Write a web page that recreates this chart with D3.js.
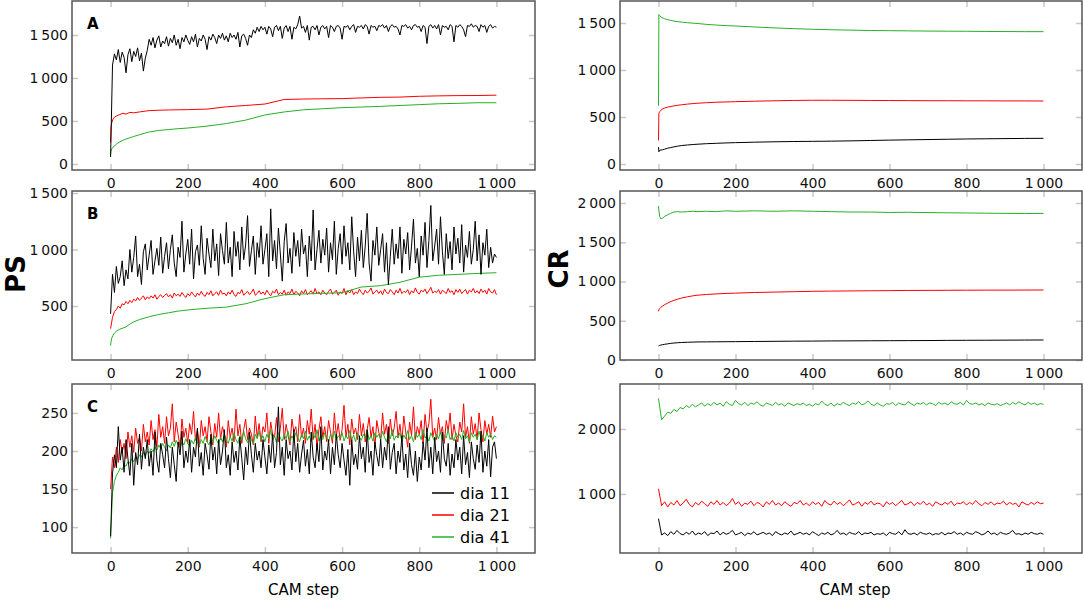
<!DOCTYPE html>
<html>
<head>
<meta charset="utf-8">
<script src="https://cdn.jsdelivr.net/npm/d3@7"></script>
<style>
  body { margin: 0; background: #fff; }
  svg { font-family: "DejaVu Sans", Verdana, sans-serif; }
  .frame { fill: none; stroke: #555; stroke-width: 1.5; }
  .axis .domain { display: none; }
  .axis line { stroke: #c8c8c8; stroke-width: 1.5; }
  .axis text { font-family: "DejaVu Sans", Verdana, sans-serif; font-size: 14px; fill: #111; }
  .series { fill: none; stroke-width: 1; stroke-linejoin: round; }
  .panel-letter { font-size: 15px; font-weight: bold; }
  .axis-title { font-size: 26px; font-weight: bold; }
  .x-title { font-size: 15px; }
  .legend text { font-size: 16px; }
</style>
</head>
<body>
<div id="chart"></div>
<script>

// ---- data ----
const seriesLabels = ['dia 11', 'dia 21', 'dia 41'];
const xTicks = [0, 200, 400, 600, 800, 1000];

// CAM-step grids: every 5 steps for the noisiest series, every 8 for the CR bottom panel,
// a sparse grid for the smooth ones
const fineSteps = d3.range(0, 1001, 5);
const midSteps = d3.range(0, 1001, 8);
const coarseSteps = [0, 1, 3, 6, 10, 16, 24, 32, 40, 50, 60, 75, 90, 100, 125, 150, 175, 200,
  250, 300, 350, 400, 450, 500, 550, 600, 650, 700, 750, 800, 850, 900, 950, 1000];

// PS, panel A
const psA_ticks = [0, 500, 1000, 1500];
const psA_dia11 = [
  80, 1150, 1280, 1210, 1330, 1180, 1300, 1240, 1060, 1270,
  1340, 1190, 1310, 1250, 1350, 1200, 1290, 1080, 1230, 1320,
  1450, 1380, 1470, 1350, 1440, 1490, 1360, 1430, 1400, 1480,
  1370, 1460, 1410, 1500, 1380, 1450, 1340, 1470, 1420, 1500,
  1440, 1390, 1480, 1420, 1510, 1360, 1460, 1430, 1500, 1450,
  1330, 1480, 1440, 1510, 1470, 1400, 1500, 1460, 1520, 1440,
  1490, 1420, 1520, 1470, 1500, 1450, 1530, 1360, 1490, 1510,
  1460, 1380, 1500, 1470, 1560, 1520, 1590, 1540, 1600, 1560,
  1590, 1510, 1600, 1570, 1480, 1590, 1610, 1550, 1600, 1460,
  1580, 1610, 1540, 1600, 1450, 1590, 1570, 1620, 1720, 1580,
  1600, 1530, 1610, 1440, 1590, 1600, 1560, 1610, 1500, 1590,
  1610, 1570, 1600, 1470, 1610, 1590, 1540, 1600, 1610, 1580,
  1450, 1600, 1590, 1610, 1560, 1600, 1620, 1530, 1600, 1590,
  1610, 1570, 1620, 1600, 1510, 1610, 1590, 1600, 1550, 1610,
  1600, 1620, 1580, 1610, 1540, 1600, 1620, 1590, 1600, 1570,
  1500, 1610, 1600, 1620, 1580, 1600, 1560, 1610, 1620, 1590,
  1600, 1540, 1610, 1590, 1400, 1600, 1620, 1580, 1610, 1570,
  1620, 1500, 1610, 1590, 1600, 1560, 1620, 1600, 1420, 1610,
  1590, 1620, 1600, 1560, 1480, 1610, 1600, 1630, 1590, 1610,
  1600, 1540, 1620, 1590, 1610, 1530, 1600, 1620, 1580, 1600,
  1590];
const psA_dia21 = [250, 420, 480, 520, 545, 560, 575, 590, 580, 600, 595, 605, 615, 620, 625, 628, 630, 632,
  638, 665, 680, 697, 750, 755, 758, 760, 768, 775, 778, 787, 792, 795, 796, 800];
const psA_dia41 = [110, 150, 175, 195, 210, 235, 258, 275, 290, 305, 320, 340, 360, 372, 390, 400, 410, 418,
  440, 470, 510, 570, 605, 630, 642, 655, 662, 670, 680, 690, 700, 705, 712, 712];

// PS, panel B
const psB_ticks = [500, 1000, 1500];
const psB_dia11 = [
  430, 780, 620, 850, 700, 760, 900, 680, 820, 740,
  1000, 800, 930, 1120, 760, 870, 690, 980, 1050, 820,
  950, 1080, 780, 900, 1010, 860, 1110, 790, 940, 1060,
  830, 1000, 1130, 880, 760, 1020, 930, 1250, 800, 960,
  1090, 870, 1180, 740, 980, 1040, 860, 1210, 920, 780,
  1100, 960, 840, 1180, 900, 1050, 770, 1140, 990, 870,
  1240, 880, 1020, 760, 1160, 940, 1070, 820, 1200, 910,
  1040, 1300, 850, 990, 1120, 780, 1060, 930, 1210, 870,
  1000, 1140, 760, 1360, 900, 1080, 830, 1190, 960, 720,
  1070, 1230, 880, 1010, 790, 1150, 940, 1080, 850, 1180,
  960, 1040, 760, 1120, 900, 1350, 820, 1000, 1170, 880,
  1090, 950, 1190, 800, 1060, 910, 1250, 780, 1010, 1140,
  870, 1210, 940, 1060, 820, 1290, 980, 760, 1110, 900,
  1170, 840, 1030, 1320, 880, 720, 1080, 950, 1200, 860,
  1000, 1140, 800, 1060, 690, 940, 1180, 870, 1050, 920,
  1200, 790, 1090, 960, 1150, 820, 1030, 1270, 880, 1010,
  760, 1120, 950, 1240, 840, 1080, 1390, 900, 1030, 1180,
  870, 1290, 980, 780, 1140, 920, 1070, 820, 1200, 960,
  1100, 880, 1220, 800, 1040, 930, 1160, 870, 1000, 1250,
  900, 1130, 780, 1060, 950, 1180, 840, 1020, 880, 960,
  930];
const psB_dia21 = [
  300, 400, 450, 470, 500, 480, 520, 510, 540, 520,
  550, 530, 560, 545, 575, 550, 570, 590, 555, 580,
  565, 590, 570, 600, 560, 585, 600, 575, 595, 610,
  580, 600, 570, 615, 590, 605, 585, 620, 595, 575,
  610, 590, 625, 600, 580, 615, 595, 630, 600, 585,
  620, 600, 635, 590, 610, 625, 595, 640, 605, 615,
  590, 625, 605, 640, 600, 585, 620, 610, 645, 595,
  615, 630, 600, 620, 650, 595, 610, 635, 605, 625,
  600, 640, 610, 590, 630, 615, 650, 600, 620, 605,
  640, 595, 625, 610, 650, 600, 630, 615, 590, 635,
  610, 645, 600, 620, 635, 605, 655, 610, 625, 600,
  640, 615, 600, 630, 650, 605, 620, 640, 595, 625,
  610, 655, 600, 635, 615, 645, 600, 625, 610, 650,
  620, 600, 640, 615, 630, 660, 605, 625, 640, 610,
  635, 600, 650, 620, 610, 645, 625, 600, 640, 615,
  655, 610, 630, 620, 645, 600, 635, 615, 660, 620,
  605, 640, 625, 650, 610, 635, 665, 615, 630, 620,
  645, 605, 640, 625, 610, 655, 620, 635, 600, 645,
  620, 650, 610, 630, 645, 605, 640, 625, 655, 615,
  635, 610, 650, 620, 640, 605, 655, 625, 615, 645,
  600];
const psB_dia41 = [150, 180, 215, 240, 260, 280, 295, 305, 315, 340, 360, 380, 395, 405, 425, 440, 455, 465,
  480, 490, 520, 565, 600, 607, 612, 618, 668, 680, 710, 755, 772, 780, 788, 795];

// PS, panel C
const psC_ticks = [100, 150, 200, 250];
const psC_dia11 = [
  88, 170, 195, 178, 232, 188, 205, 172, 215, 190,
  168, 210, 155, 198, 182, 222, 176, 205, 190, 215,
  180, 200, 168, 225, 188, 172, 210, 195, 178, 218,
  190, 165, 205, 182, 160, 212, 195, 226, 178, 200,
  185, 215, 172, 205, 192, 230, 180, 198, 168, 210,
  195, 176, 222, 188, 205, 170, 215, 182, 200, 228,
  178, 195, 168, 212, 185, 200, 175, 218, 190, 162,
  205, 182, 225, 195, 172, 210, 188, 200, 178, 215,
  192, 170, 208, 185, 222, 178, 198, 258, 182, 205,
  168, 215, 190, 200, 175, 228, 186, 210, 172, 196,
  214, 180, 202, 170, 225, 192, 178, 210, 186, 232,
  175, 200, 188, 215, 170, 205, 182, 222, 195, 178,
  210, 188, 168, 202, 155, 215, 182, 196, 176, 220,
  190, 205, 172, 228, 185, 200, 168, 212, 194, 180,
  215, 178, 205, 188, 232, 176, 198, 210, 170, 200,
  185, 220, 175, 196, 165, 210, 182, 168, 200, 160,
  192, 175, 212, 188, 230, 178, 205, 170, 218, 186,
  200, 172, 225, 190, 180, 210, 168, 196, 178, 215,
  188, 205, 170, 220, 182, 198, 165, 212, 190, 176,
  208, 185, 226, 172, 200, 180, 215, 166, 205, 212,
  190];
const psC_dia21 = [
  150, 192, 178, 205, 185, 215, 198, 210, 190, 225,
  205, 220, 198, 230, 210, 218, 200, 235, 212, 225,
  208, 240, 215, 228, 205, 248, 218, 232, 210, 245,
  220, 230, 262, 212, 238, 222, 205, 242, 218, 230,
  210, 236, 222, 252, 214, 228, 205, 240, 220, 232,
  212, 245, 225, 208, 236, 218, 250, 215, 232, 222,
  205, 240, 218, 230, 212, 255, 220, 235, 210, 228,
  242, 215, 230, 222, 208, 246, 218, 236, 212, 232,
  225, 250, 210, 238, 222, 218, 244, 212, 230, 256,
  215, 235, 220, 208, 242, 225, 232, 212, 248, 218,
  230, 210, 240, 222, 255, 215, 235, 205, 228, 245,
  218, 232, 212, 240, 225, 210, 250, 220, 236, 214,
  228, 260, 218, 235, 208, 242, 222, 230, 215, 248,
  220, 236, 212, 228, 244, 218, 232, 205, 240, 225,
  215, 250, 222, 235, 210, 242, 220, 230, 252, 218,
  235, 212, 246, 225, 205, 238, 220, 258, 215, 232,
  222, 240, 210, 248, 225, 236, 268, 218, 230, 215,
  244, 222, 232, 210, 240, 226, 250, 215, 235, 220,
  212, 238, 225, 262, 218, 232, 210, 245, 222, 236,
  215, 250, 228, 212, 240, 222, 235, 218, 246, 225,
  232];
const psC_dia41 = [
  85, 145, 160, 168, 172, 178, 175, 182, 180, 186,
  184, 190, 186, 192, 189, 195, 192, 198, 194, 200,
  197, 203, 199, 205, 201, 208, 203, 210, 205, 200,
  208, 204, 212, 206, 214, 208, 204, 212, 208, 216,
  210, 206, 214, 209, 218, 211, 207, 215, 210, 219,
  212, 208, 217, 211, 220, 214, 209, 218, 212, 222,
  214, 210, 219, 213, 224, 215, 210, 220, 214, 226,
  216, 211, 221, 215, 209, 222, 216, 226, 214, 220,
  212, 222, 216, 228, 214, 220, 211, 224, 217, 213,
  222, 216, 226, 212, 220, 215, 224, 218, 212, 222,
  216, 226, 214, 220, 212, 223, 217, 228, 213, 220,
  215, 224, 218, 212, 222, 216, 226, 214, 220, 217,
  224, 213, 220, 216, 227, 215, 221, 212, 224, 218,
  214, 222, 217, 228, 215, 220, 213, 224, 218, 222,
  215, 226, 218, 212, 222, 216, 228, 214, 220, 217,
  224, 213, 221, 216, 227, 215, 220, 212, 225, 218,
  222, 215, 228, 217, 220, 213, 224, 218, 212, 222,
  216, 226, 214, 221, 217, 228, 215, 220, 213, 224,
  218, 222, 215, 227, 216, 220, 212, 224, 218, 222,
  215, 226, 217, 221, 213, 224, 218, 222, 215, 220,
  218];

// CR, top
const crA_ticks = [0, 500, 1000, 1500];
const crA_dia11 = [180, 130, 145, 148, 150, 158, 168, 175, 182, 190, 196, 202, 207, 210, 216, 220, 224, 227,
  232, 236, 239, 241, 243, 246, 250, 254, 257, 260, 263, 266, 268, 270, 272, 273];
const crA_dia21 = [250, 540, 555, 570, 585, 595, 605, 612, 618, 625, 630, 637, 643, 646, 652, 657, 660, 663,
  668, 672, 676, 678, 678, 677, 676, 675, 674, 673, 673, 672, 672, 671, 671, 670];
const crA_dia41 = [620, 1590, 1580, 1565, 1555, 1545, 1535, 1528, 1520, 1514, 1510, 1503, 1498, 1495, 1485, 1478, 1472, 1468,
  1458, 1448, 1440, 1433, 1428, 1424, 1420, 1418, 1416, 1414, 1413, 1412, 1410, 1409, 1408, 1408];

// CR, middle
const crB_ticks = [0, 500, 1000, 1500, 2000];
const crB_dia11 = [178, 182, 186, 190, 195, 200, 206, 212, 216, 220, 223, 226, 228, 230, 231, 232, 233, 234,
  236, 238, 240, 241, 243, 244, 245, 246, 247, 248, 250, 251, 252, 253, 254, 255];
const crB_dia21 = [620, 640, 655, 670, 685, 705, 725, 745, 760, 775, 790, 805, 818, 825, 835, 842, 848, 852,
  860, 865, 870, 875, 878, 880, 882, 884, 886, 887, 888, 889, 890, 890, 891, 892];
const crB_dia41 = [1960, 1900, 1830, 1800, 1805, 1830, 1850, 1870, 1885, 1890, 1885, 1890, 1895, 1890, 1895, 1890, 1900, 1895,
  1900, 1895, 1900, 1895, 1890, 1885, 1885, 1880, 1882, 1878, 1875, 1873, 1870, 1868, 1865, 1868];

// CR, bottom
const crC_ticks = [1000, 2000];
const crC_dia11 = [
  620, 370, 400, 360, 420, 380, 440, 390, 370, 410,
  380, 430, 370, 400, 380, 420, 360, 400, 390, 430,
  370, 410, 380, 400, 440, 370, 390, 410, 360, 400,
  380, 420, 370, 390, 410, 380, 400, 360, 420, 390,
  370, 400, 380, 430, 370, 390, 410, 380, 400, 370,
  420, 390, 360, 400, 380, 410, 370, 390, 440, 380,
  400, 370, 410, 390, 380, 420, 370, 400, 390, 410,
  370, 390, 380, 400, 360, 410, 390, 380, 420, 370,
  450, 390, 380, 400, 370, 410, 390, 380, 400, 370,
  390, 380, 410, 370, 400, 390, 420, 380, 400, 370,
  410, 390, 380, 420, 400, 370, 390, 430, 380, 400,
  370, 410, 390, 380, 400, 440, 380, 390, 370, 400,
  380, 410, 390, 380, 400, 380];
const crC_dia21 = [
  1080, 820, 880, 800, 870, 830, 900, 820, 860, 920,
  840, 800, 870, 830, 890, 850, 810, 880, 840, 900,
  830, 870, 820, 860, 930, 840, 880, 810, 860, 840,
  890, 820, 870, 850, 800, 880, 840, 900, 830, 860,
  820, 880, 840, 810, 870, 850, 900, 830, 860, 820,
  880, 840, 870, 810, 900, 850, 830, 890, 840, 870,
  820, 860, 910, 830, 850, 880, 810, 870, 840, 890,
  830, 860, 850, 800, 880, 840, 870, 820, 860, 900,
  830, 850, 880, 820, 870, 840, 890, 830, 860, 810,
  880, 850, 830, 870, 840, 890, 820, 860, 850, 880,
  830, 870, 840, 900, 850, 820, 870, 840, 880, 830,
  860, 850, 890, 830, 870, 840, 860, 800, 880, 850,
  830, 870, 840, 880, 850, 860];
const crC_dia41 = [
  2470, 2140, 2200, 2260, 2240, 2300, 2270, 2330, 2310, 2360,
  2330, 2380, 2340, 2370, 2400, 2350, 2390, 2360, 2410, 2370,
  2400, 2350, 2420, 2380, 2360, 2440, 2390, 2370, 2410, 2360,
  2400, 2380, 2420, 2370, 2350, 2400, 2380, 2360, 2410, 2370,
  2390, 2350, 2400, 2380, 2360, 2390, 2370, 2400, 2360, 2380,
  2350, 2390, 2370, 2430, 2380, 2360, 2400, 2350, 2390, 2370,
  2410, 2380, 2360, 2400, 2380, 2420, 2370, 2390, 2430, 2380,
  2360, 2400, 2370, 2350, 2390, 2380, 2410, 2360, 2400, 2380,
  2370, 2420, 2390, 2360, 2400, 2380, 2410, 2370, 2400, 2390,
  2360, 2410, 2380, 2400, 2370, 2420, 2390, 2380, 2410, 2370,
  2440, 2390, 2380, 2400, 2370, 2390, 2360, 2400, 2380, 2370,
  2390, 2360, 2380, 2400, 2370, 2410, 2380, 2420, 2390, 2370,
  2410, 2380, 2400, 2370, 2390, 2380];

// ---- chart ----
const colorOf = {'dia 11': '#000000', 'dia 21': '#ff0000', 'dia 41': '#26b026'};
const groupFmt = d3.formatLocale({decimal: '.', thousands: '\u2009', grouping: [3], currency: ['', '']}).format(',');

class LinePanel {

  constructor(_config, _series) {
    this.config = {
      parentElement: _config.parentElement,
      left: _config.left,
      top: _config.top,
      width: _config.width,
      height: _config.height,
      yDomain: _config.yDomain,
      yTicks: _config.yTicks,
      letter: _config.letter || '',
      legend: _config.legend || false
    }
    this.series = _series;
    this.initVis();
  }

  initVis() {
    let vis = this;

    vis.xScale = d3.scaleLinear()
        .domain([-100, 1100])
        .range([0, vis.config.width]);

    vis.yScale = d3.scaleLinear()
        .domain(vis.config.yDomain)
        .range([vis.config.height, 0]);

    vis.chart = vis.config.parentElement.append('g')
        .attr('transform', `translate(${vis.config.left},${vis.config.top})`);

    // short grey stubs on all four sides, labels only left and bottom
    vis.xAxis = d3.axisBottom(vis.xScale).tickValues(xTicks).tickSize(-6).tickPadding(8).tickFormat(groupFmt);
    vis.xAxisTop = d3.axisTop(vis.xScale).tickValues(xTicks).tickSize(-6).tickFormat('');
    vis.yAxis = d3.axisLeft(vis.yScale).tickValues(vis.config.yTicks).tickSize(-6).tickPadding(4).tickFormat(groupFmt);
    vis.yAxisRight = d3.axisRight(vis.yScale).tickValues(vis.config.yTicks).tickSize(-6).tickFormat('');

    vis.xAxisG = vis.chart.append('g')
        .attr('class', 'axis x-axis')
        .attr('transform', `translate(0,${vis.config.height})`);
    vis.xAxisTopG = vis.chart.append('g').attr('class', 'axis');
    vis.yAxisG = vis.chart.append('g').attr('class', 'axis y-axis');
    vis.yAxisRightG = vis.chart.append('g')
        .attr('class', 'axis')
        .attr('transform', `translate(${vis.config.width},0)`);

    vis.lineG = vis.chart.append('g');

    vis.chart.append('rect')
        .attr('class', 'frame')
        .attr('width', vis.config.width)
        .attr('height', vis.config.height);

    if (vis.config.letter) {
      vis.chart.append('text')
          .attr('class', 'panel-letter')
          .attr('x', 15)
          .attr('y', 28)
          .text(vis.config.letter);
    }

    vis.updateVis();
  }

  updateVis() {
    let vis = this;
    vis.lineData = vis.series.map(s => ({
      label: s.label,
      points: s.steps.map((step, i) => ({step: step, value: s.values[i]}))
    }));
    vis.line = d3.line()
        .x(d => vis.xScale(d.step))
        .y(d => vis.yScale(d.value));
    vis.renderVis();
  }

  renderVis() {
    let vis = this;

    vis.lineG.selectAll('.series')
        .data(vis.lineData, d => d.label)
        .join('path')
        .attr('class', 'series')
        .attr('stroke', d => colorOf[d.label])
        .attr('d', d => vis.line(d.points));

    vis.xAxisG.call(vis.xAxis);
    vis.xAxisTopG.call(vis.xAxisTop);
    vis.yAxisG.call(vis.yAxis);
    vis.yAxisRightG.call(vis.yAxisRight);

    if (vis.config.legend) {
      const legend = vis.chart.append('g')
          .attr('class', 'legend')
          .attr('transform', `translate(${vis.config.width - 103},${vis.config.height - 60})`);
      const item = legend.selectAll('g')
          .data(seriesLabels)
          .join('g')
          .attr('transform', (d, i) => `translate(0,${i * 22})`);
      item.append('line')
          .attr('x1', 0).attr('x2', 22)
          .attr('stroke', d => colorOf[d])
          .attr('stroke-width', 1.5);
      item.append('text')
          .attr('x', 28)
          .attr('dy', '0.35em')
          .text(d => d);
    }
  }
}

const svg = d3.select('#chart').append('svg')
    .attr('width', 1084)
    .attr('height', 602);

// draw order: dia 21, dia 41, dia 11 on top
const build = (steps21, v21, steps41, v41, steps11, v11) => [
  {label: 'dia 21', steps: steps21, values: v21},
  {label: 'dia 41', steps: steps41, values: v41},
  {label: 'dia 11', steps: steps11, values: v11}
];

const colLeft = {left: 72, width: 463};
const colRight = {left: 620, width: 462};
const rowTops = [1, 191, 384];
const panelH = 169;

new LinePanel({parentElement: svg, ...colLeft, top: rowTops[0], height: panelH,
  yDomain: [-70, 1895], yTicks: psA_ticks, letter: 'A'},
  build(coarseSteps, psA_dia21, coarseSteps, psA_dia41, fineSteps, psA_dia11));
new LinePanel({parentElement: svg, ...colLeft, top: rowTops[1], height: panelH,
  yDomain: [22, 1518], yTicks: psB_ticks, letter: 'B'},
  build(fineSteps, psB_dia21, coarseSteps, psB_dia41, fineSteps, psB_dia11));
new LinePanel({parentElement: svg, ...colLeft, top: rowTops[2], height: panelH,
  yDomain: [66, 288], yTicks: psC_ticks, letter: 'C', legend: true},
  build(fineSteps, psC_dia21, fineSteps, psC_dia41, fineSteps, psC_dia11));

new LinePanel({parentElement: svg, ...colRight, top: rowTops[0], height: panelH,
  yDomain: [-64, 1734], yTicks: crA_ticks},
  build(coarseSteps, crA_dia21, coarseSteps, crA_dia41, coarseSteps, crA_dia11));
new LinePanel({parentElement: svg, ...colRight, top: rowTops[1], height: panelH,
  yDomain: [0, 2153], yTicks: crB_ticks},
  build(coarseSteps, crB_dia21, coarseSteps, crB_dia41, coarseSteps, crB_dia11));
new LinePanel({parentElement: svg, ...colRight, top: rowTops[2], height: panelH,
  yDomain: [92, 2692], yTicks: crC_ticks},
  build(midSteps, crC_dia21, midSteps, crC_dia41, midSteps, crC_dia11));

// axis titles
svg.append('text')
    .attr('class', 'axis-title')
    .attr('text-anchor', 'middle')
    .attr('transform', 'translate(25,274) rotate(-90)')
    .text('PS');
svg.append('text')
    .attr('class', 'axis-title')
    .attr('text-anchor', 'middle')
    .attr('transform', 'translate(568,269) rotate(-90)')
    .text('CR');

svg.selectAll('.x-title')
    .data([colLeft.left + colLeft.width / 2, colRight.left + colRight.width / 2 + 4])
    .join('text')
    .attr('class', 'x-title')
    .attr('text-anchor', 'middle')
    .attr('x', d => d)
    .attr('y', 595)
    .text('CAM step');

</script>
</body>
</html>
